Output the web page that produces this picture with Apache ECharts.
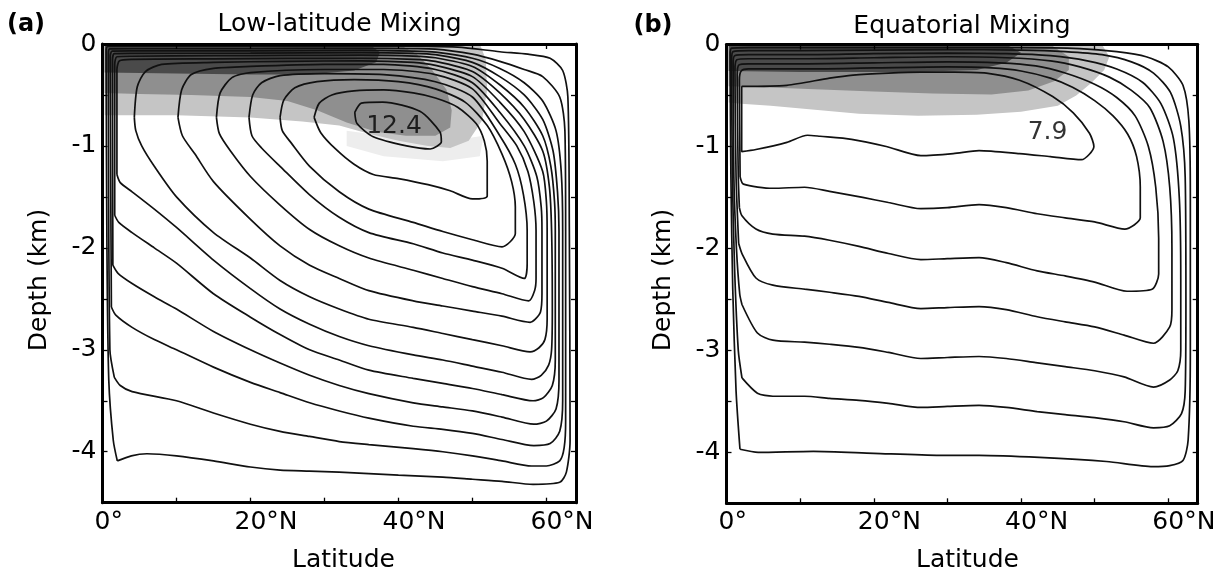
<!DOCTYPE html>
<html><head><meta charset="utf-8">
<script src="https://cdn.jsdelivr.net/npm/echarts@6/dist/echarts.min.js"></script>
<style>html,body{margin:0;padding:0;background:#fff}#c{width:1219px;height:571px}</style>
</head><body><div id="c"></div>
<script>
// ---------- text / ticks ----------
const panelTitles = ['Low-latitude Mixing', 'Equatorial Mixing'];
const panelTags = ['(a)', '(b)'];
const xName = 'Latitude';
const yName = 'Depth (km)';
const xTickLabels = {0: '0°', 20: '20°N', 40: '40°N', 60: '60°N'};
const maxLabelA = [[39.4, -0.81]];
const maxLabelB = [[43.6, -0.86]];
const maxTextA = '12.4';
const maxTextB = '7.9';

// ---------- panel (a) contours (lat °N, depth km) ----------
const contA1 = [[34.1,-0.67],[35.0,-0.58],[37.9,-0.57],[42.9,-0.66],[45.6,-0.86],[45.8,-0.96],[44.3,-1.03],[41.1,-1.0],[36.6,-0.91],[34.4,-0.78],[34.1,-0.67]];
const contA2 = [[28.6,-0.72],[29.3,-0.58],[31,-0.5],[34,-0.46],[38,-0.45],[42,-0.48],[45,-0.53],[48,-0.62],[50.5,-0.78],[51.6,-0.95],[52,-1.15],[52,-1.49],[50,-1.52],[47,-1.44],[44,-1.38],[40,-1.32],[36.6,-1.28],[34,-1.18],[31.5,-1.03],[29.5,-0.87],[28.6,-0.72]];
const contA3 = [[24,-0.72],[24.5,-0.55],[26,-0.43],[29,-0.37],[34,-0.35],[40,-0.37],[45,-0.44],[49,-0.57],[52,-0.8],[54,-1.08],[55.3,-1.35],[55.8,-1.6],[55.8,-1.86],[54,-1.99],[50,-1.92],[46,-1.84],[42,-1.75],[36,-1.62],[32,-1.45],[28,-1.2],[25.5,-0.97],[24.3,-0.85],[24,-0.72]];
const contA4 = [[19.8,-0.72],[20.3,-0.5],[21.5,-0.38],[24,-0.31],[30,-0.29],[38,-0.3],[45,-0.37],[50,-0.52],[53.7,-0.9],[55.8,-1.18],[56.9,-1.48],[57.4,-1.83],[57.4,-2.15],[57.0,-2.3],[54,-2.2],[50,-2.12],[46,-2.05],[42,-1.96],[36,-1.85],[32,-1.7],[28,-1.48],[24,-1.2],[21.5,-1.02],[20.2,-0.9],[19.8,-0.72]];
const contA5 = [[15.4,-0.72],[15.9,-0.48],[17.5,-0.33],[20,-0.28],[30,-0.25],[38,-0.25],[45,-0.3],[50,-0.44],[53.7,-0.78],[56,-1.0],[57.5,-1.25],[58.3,-1.55],[58.6,-1.83],[58.6,-2.3],[58.4,-2.42],[57.6,-2.52],[54,-2.45],[50,-2.38],[46,-2.3],[42,-2.22],[36,-2.1],[32,-1.98],[28,-1.82],[24,-1.58],[20,-1.3],[17.3,-1.05],[15.8,-0.88],[15.4,-0.72]];
const contA6 = [[10.2,-0.72],[10.7,-0.45],[12,-0.3],[15,-0.24],[20,-0.22],[30,-0.2],[38,-0.2],[45,-0.25],[50,-0.38],[53.7,-0.67],[57,-1.0],[58.7,-1.3],[59.3,-1.6],[59.4,-1.83],[59.4,-2.45],[59.2,-2.63],[58.5,-2.7],[57.8,-2.73],[54,-2.67],[50,-2.62],[46,-2.57],[42,-2.52],[36,-2.42],[32,-2.3],[28,-2.17],[24,-1.98],[20,-1.72],[15,-1.35],[12.5,-1.08],[10.8,-0.9],[10.2,-0.72]];
const contA7 = [[4.3,-0.72],[4.7,-0.42],[5.8,-0.27],[8,-0.2],[15,-0.18],[25,-0.17],[35,-0.165],[42,-0.18],[45,-0.21],[50,-0.32],[53.7,-0.57],[57,-0.86],[59.5,-1.25],[60,-1.55],[60.1,-1.83],[60.1,-2.7],[59.8,-2.9],[59,-2.98],[57.8,-3.02],[54,-2.96],[50,-2.9],[46,-2.84],[42,-2.78],[36,-2.7],[32,-2.6],[28,-2.48],[24,-2.32],[20,-2.1],[15,-1.85],[10,-1.5],[7,-1.2],[5.3,-1.0],[4.5,-0.85],[4.3,-0.72]];
const contA8 = [[1.95,-1.28],[1.95,-0.25],[2.3,-0.165],[4,-0.15],[15,-0.145],[25,-0.142],[35,-0.14],[42,-0.15],[45,-0.17],[50,-0.27],[53.7,-0.48],[57,-0.74],[59.5,-1.05],[60.4,-1.4],[60.7,-1.83],[60.8,-2.6],[60.7,-3.0],[60.3,-3.15],[59.3,-3.25],[58,-3.29],[54,-3.22],[50,-3.16],[46,-3.1],[42,-3.05],[36,-2.96],[32,-2.87],[28,-2.75],[24,-2.6],[20,-2.4],[15,-2.12],[10,-1.8],[7,-1.62],[4,-1.45],[2.4,-1.36],[1.95,-1.28]];
const contA9 = [[1.65,-1.68],[1.65,-0.2],[1.95,-0.125],[4,-0.12],[15,-0.115],[25,-0.112],[35,-0.11],[42,-0.118],[45,-0.135],[50,-0.22],[53.7,-0.4],[57,-0.62],[59.5,-0.9],[60.6,-1.2],[61.1,-1.55],[61.2,-1.83],[61.2,-3.1],[60.8,-3.35],[59.6,-3.47],[58.2,-3.5],[54,-3.44],[50,-3.38],[46,-3.33],[42,-3.28],[36,-3.2],[32,-3.1],[28,-3.0],[24,-2.85],[20,-2.68],[15,-2.45],[10,-2.15],[7,-2.0],[4,-1.85],[2.2,-1.75],[1.65,-1.68]];
const contA10 = [[1.4,-2.17],[1.35,-0.16],[1.6,-0.095],[4,-0.092],[20,-0.09],[35,-0.085],[42,-0.092],[45,-0.105],[50,-0.18],[53.7,-0.32],[57,-0.5],[59.5,-0.74],[60.9,-1.05],[61.5,-1.45],[61.7,-1.83],[61.7,-3.3],[61.3,-3.58],[60,-3.7],[58.3,-3.73],[54,-3.66],[50,-3.6],[46,-3.56],[42,-3.52],[36,-3.43],[32,-3.35],[28,-3.25],[24,-3.13],[20,-3.0],[15,-2.82],[10,-2.6],[7,-2.48],[4,-2.35],[2.1,-2.25],[1.4,-2.17]];
const contA11 = [[1.2,-2.58],[1.05,-0.12],[1.3,-0.07],[4,-0.068],[20,-0.067],[35,-0.063],[42,-0.07],[45,-0.08],[50,-0.14],[53.7,-0.24],[57,-0.38],[59.5,-0.56],[61.3,-0.85],[62,-1.25],[62.2,-1.83],[62.2,-3.5],[61.8,-3.8],[60.5,-3.92],[58.3,-3.94],[54,-3.88],[50,-3.82],[46,-3.78],[42,-3.75],[36,-3.67],[32,-3.6],[28,-3.52],[24,-3.42],[20,-3.32],[15,-3.17],[10,-3.0],[7,-2.9],[4,-2.78],[1.8,-2.66],[1.2,-2.58]];
const contA12 = [[1.6,-3.27],[1.0,-3.0],[0.8,-0.09],[1.0,-0.047],[4,-0.045],[20,-0.045],[35,-0.042],[42,-0.046],[45,-0.05],[50,-0.1],[53.7,-0.17],[57,-0.25],[59.5,-0.32],[61.8,-0.52],[62.5,-0.85],[62.6,-1.83],[62.6,-3.7],[62.4,-3.96],[61.8,-4.09],[60,-4.14],[58,-4.14],[54,-4.09],[50,-4.04],[46,-4.0],[42,-3.97],[36,-3.93],[32,-3.9],[28,-3.85],[24,-3.8],[20,-3.73],[15,-3.62],[10,-3.5],[4,-3.41],[2.4,-3.35],[1.6,-3.27]];
const contA13 = [[2.0,-4.09],[1.46,-3.89],[0.85,-3.3],[0.6,-2.0],[0.5,-0.06],[0.7,-0.024],[4,-0.022],[20,-0.021],[40,-0.02],[48,-0.03],[53.7,-0.076],[57.5,-0.1],[60.5,-0.14],[62.2,-0.26],[62.9,-0.52],[63.1,-1.83],[63.2,-3.89],[62.7,-4.2],[61.8,-4.3],[58.2,-4.32],[54,-4.29],[50,-4.27],[46,-4.25],[40,-4.23],[32,-4.2],[28,-4.19],[24,-4.18],[20,-4.15],[15,-4.09],[10,-4.04],[6,-4.02],[3.9,-4.04],[2.0,-4.09]];

// ---------- panel (b) contours ----------
const contB1 = [[2.06,-0.41],[8.2,-0.40],[14,-0.33],[17.2,-0.30],[22,-0.28],[26.3,-0.27],[31,-0.27],[35.3,-0.28],[39.8,-0.35],[44.3,-0.51],[47.1,-0.67],[49.3,-0.87],[49.9,-1.0],[48.2,-1.13],[44,-1.1],[39.8,-1.07],[34.3,-1.04],[30.8,-1.07],[26.4,-1.09],[21.7,-1.0],[17,-0.93],[12.7,-0.9],[11,-0.89],[8.2,-0.96],[4,-1.03],[2.06,-1.05],[2.06,-0.41]];
const contB2 = [[1.85,-1.3],[1.75,-0.35],[2.0,-0.26],[3,-0.24],[10,-0.24],[20,-0.23],[30,-0.22],[36,-0.23],[40,-0.26],[44,-0.33],[47,-0.42],[50,-0.55],[52.5,-0.7],[54.5,-0.88],[55.7,-1.1],[56.2,-1.4],[56.2,-1.7],[54.1,-1.81],[50,-1.74],[46,-1.7],[42.2,-1.66],[38,-1.6],[34.3,-1.57],[30,-1.6],[26.4,-1.61],[22,-1.55],[18.5,-1.5],[14,-1.44],[10.6,-1.4],[6.3,-1.41],[2.3,-1.37],[1.85,-1.3]];
const contB3 = [[1.75,-1.6],[1.6,-1.3],[1.45,-0.3],[1.7,-0.2],[3,-0.19],[10,-0.19],[20,-0.18],[30,-0.17],[37,-0.18],[42,-0.21],[46,-0.28],[50,-0.39],[53,-0.52],[55.5,-0.7],[57.3,-1.0],[58.3,-1.4],[58.7,-1.9],[58.7,-2.25],[57.8,-2.4],[54.4,-2.42],[50,-2.33],[46,-2.27],[42.2,-2.22],[38,-2.14],[34.3,-2.09],[30,-2.1],[26.4,-2.11],[22,-2.05],[18,-1.98],[14,-1.92],[10.6,-1.88],[6.3,-1.86],[4,-1.81],[2.1,-1.68],[1.75,-1.6]];
const contB4 = [[1.65,-1.95],[1.3,-1.3],[1.15,-0.25],[1.4,-0.15],[3,-0.14],[10,-0.14],[20,-0.13],[30,-0.12],[38,-0.13],[44,-0.16],[48,-0.22],[52,-0.32],[55,-0.45],[57.5,-0.62],[59.3,-0.95],[60.2,-1.4],[60.5,-2.0],[60.5,-2.6],[60.2,-2.77],[58,-2.93],[54,-2.85],[50,-2.77],[46,-2.72],[42.2,-2.67],[38,-2.6],[34.3,-2.57],[30,-2.58],[26.4,-2.59],[22,-2.53],[18,-2.47],[14,-2.43],[10.6,-2.4],[6.3,-2.36],[4,-2.29],[2.1,-2.05],[1.65,-1.95]];
const contB5 = [[2.1,-2.55],[1.8,-2.45],[1.35,-2.0],[1.0,-1.3],[0.9,-0.2],[1.1,-0.11],[3,-0.1],[10,-0.1],[20,-0.09],[30,-0.085],[38,-0.09],[44,-0.11],[49,-0.16],[53,-0.24],[56.5,-0.37],[59,-0.58],[60.7,-0.92],[61.5,-1.5],[61.7,-2.3],[61.7,-3.0],[61.3,-3.2],[60.2,-3.29],[58,-3.36],[54,-3.26],[50,-3.2],[46,-3.16],[42,-3.12],[38,-3.08],[34.3,-3.06],[30,-3.07],[26.4,-3.08],[22,-3.02],[18,-2.97],[14,-2.94],[10.6,-2.92],[6.3,-2.9],[4.2,-2.83],[2.1,-2.55]];
const contB6 = [[2.1,-3.27],[1.6,-3.0],[1.1,-2.2],[0.8,-1.3],[0.7,-0.15],[0.9,-0.07],[3,-0.06],[10,-0.06],[20,-0.055],[30,-0.05],[40,-0.055],[46,-0.07],[51,-0.1],[55,-0.17],[58,-0.28],[60.3,-0.47],[61.7,-0.8],[62.3,-1.3],[62.4,-2.5],[62.3,-3.4],[61.8,-3.62],[60.2,-3.74],[58,-3.76],[54,-3.7],[50,-3.66],[46,-3.63],[42.2,-3.6],[38,-3.56],[34.3,-3.54],[30,-3.55],[26.4,-3.56],[22,-3.52],[18,-3.49],[14,-3.47],[10.6,-3.45],[6.3,-3.45],[4.2,-3.42],[2.1,-3.27]];
const contB7 = [[1.83,-3.97],[1.3,-3.4],[0.85,-2.4],[0.6,-1.3],[0.5,-0.1],[0.7,-0.035],[3,-0.03],[20,-0.03],[40,-0.03],[48,-0.04],[53,-0.07],[57,-0.12],[60,-0.22],[62,-0.4],[62.8,-0.75],[63.0,-1.5],[63.0,-3.0],[62.7,-3.88],[62,-4.08],[60.2,-4.13],[57.9,-4.14],[51.6,-4.09],[42.5,-4.05],[34.3,-4.03],[29,-4.03],[20,-4.01],[11.8,-3.99],[4.3,-4.0],[1.83,-3.97]];

// ---------- shading regions ----------
const shadeAFaint  = [[33,-0.85],[40,-0.92],[47,-0.95],[51.5,-0.9],[51,-1.1],[46,-1.15],[38,-1.1],[33,-1.0]];
const shadeALight  = [[0.3,0],[51,0],[51.8,-0.15],[52,-0.45],[51.3,-0.75],[49.5,-0.95],[47,-1.02],[44,-1.0],[40,-0.95],[36,-0.88],[32,-0.8],[27,-0.76],[20,-0.72],[10,-0.7],[0.3,-0.7]];
const shadeAMedium = [[0.3,0],[40,0],[42.5,-0.1],[44.5,-0.25],[46.5,-0.45],[47.2,-0.65],[47,-0.82],[45,-0.9],[41,-0.9],[37,-0.86],[33,-0.77],[29,-0.65],[25,-0.56],[20,-0.52],[12,-0.5],[5,-0.49],[0.3,-0.48]];
const shadeADark   = [[0.3,0],[36,0],[37.5,-0.08],[37,-0.18],[34,-0.26],[28,-0.3],[20,-0.3],[10,-0.29],[0.3,-0.28]];
const shadeBLight  = [[0.3,0],[51,0],[52,-0.12],[51.3,-0.25],[49.5,-0.38],[47.5,-0.5],[45,-0.6],[40,-0.66],[34,-0.69],[26,-0.7],[18,-0.68],[12,-0.64],[6,-0.6],[2,-0.58],[0.3,-0.57]];
const shadeBMedium = [[0.3,0],[44,0],[46.5,-0.12],[46.5,-0.25],[44.5,-0.36],[41,-0.45],[36,-0.49],[28,-0.48],[20,-0.46],[12,-0.44],[5,-0.42],[0.3,-0.41]];
const shadeBDark   = [[0.3,0],[38,0],[40,-0.08],[38,-0.18],[34,-0.25],[25,-0.27],[10,-0.27],[0.3,-0.26]];

const contoursA = [contA1,contA2,contA3,contA4,contA5,contA6,contA7,contA8,contA9,contA10,contA11,contA12,contA13];
const contoursB = [contB1,contB2,contB3,contB4,contB5,contB6,contB7];

// ---------- build chart ----------
const FONT = 'DejaVu Sans';
const grids = [
  {left: 102.5, top: 44, width: 473.5, height: 458.7, containLabel: false, outerBoundsMode: 'none'},
  {left: 726.5, top: 44.5, width: 471.2, height: 458.8, containLabel: false, outerBoundsMode: 'none'}
];
function xAxisOpt(g, pos) {
  return {
    type: 'value', gridIndex: g, position: pos, min: 0, max: 64, interval: 10, z: 10,
    axisLine: {show: true, onZero: false, lineStyle: {color: '#000', width: 3}},
    axisTick: {show: true, inside: true, length: 5, lineStyle: {color: '#000', width: 1.3}},
    splitLine: {show: false},
    axisLabel: {
      show: pos === 'bottom', margin: 7, color: '#000', fontSize: 25, fontFamily: FONT,
      formatter: function (v) {
        const lab = xTickLabels[v];
        if (lab === undefined) return '';
        const suf = lab.replace(/^\d+/, '');
        return '{h|' + suf + '}{t|' + lab + '}';
      },
      rich: {
        h: {color: 'rgba(0,0,0,0)', fontSize: 25, fontFamily: FONT},
        t: {color: '#000', fontSize: 25, fontFamily: FONT}
      }
    }
  };
}
function yAxisOpt(g, pos) {
  return {
    type: 'value', gridIndex: g, position: pos, min: -4.5, max: 0, interval: 0.5, z: 10,
    axisLine: {show: true, onZero: false, lineStyle: {color: '#000', width: 3}},
    axisTick: {show: true, inside: true, length: 5, lineStyle: {color: '#000', width: 1.3}},
    splitLine: {show: false},
    axisLabel: {
      show: pos === 'left', margin: 6, color: '#000', fontSize: 25, fontFamily: FONT,
      formatter: function (v) {
        const r = Math.round(v);
        return Math.abs(v - r) < 1e-6 ? String(r === 0 ? 0 : r) : '';
      }
    }
  };
}
function shadeSeries(poly, color, p, z) {
  return {
    type: 'custom', coordinateSystem: 'cartesian2d', xAxisIndex: p * 2, yAxisIndex: p * 2,
    data: [0], silent: true, animation: false, clip: true, z: z,
    renderItem: function (params, api) {
      return {type: 'polygon', shape: {points: poly.map(function (pt) { return api.coord(pt); })},
              style: {fill: color, stroke: null}};
    }
  };
}
function lineSeries(data, p) {
  return {
    type: 'line', xAxisIndex: p * 2, yAxisIndex: p * 2, data: data, showSymbol: false, symbol: 'none',
    smooth: 0.25, silent: true, animation: false, z: 5,
    lineStyle: {color: '#111', width: 1.7}
  };
}
function labelSeries(pt, text, p) {
  return {
    type: 'scatter', xAxisIndex: p * 2, yAxisIndex: p * 2, data: pt, symbolSize: 1, silent: true,
    animation: false, z: 6, itemStyle: {color: 'rgba(0,0,0,0)'},
    label: {show: true, position: 'inside', formatter: text, color: '#000', fontSize: 25, fontFamily: FONT}
  };
}
const series = [
  shadeSeries(shadeAFaint, '#ededed', 0, 1),
  shadeSeries(shadeALight, '#c5c5c5', 0, 2),
  shadeSeries(shadeAMedium, '#8f8f8f', 0, 3),
  shadeSeries(shadeADark, '#4a4a4a', 0, 4),
  shadeSeries(shadeBLight, '#c5c5c5', 1, 2),
  shadeSeries(shadeBMedium, '#8f8f8f', 1, 3),
  shadeSeries(shadeBDark, '#4a4a4a', 1, 4)
];
contoursA.forEach(function (c) { series.push(lineSeries(c, 0)); });
contoursB.forEach(function (c) { series.push(lineSeries(c, 1)); });
series.push(labelSeries(maxLabelA, maxTextA, 0));
series.push(labelSeries(maxLabelB, maxTextB, 1));

function txt(str, x, y, opts) {
  opts = opts || {};
  return {
    type: 'text', x: x, y: y, rotation: opts.rot || 0, z: 20, silent: true,
    style: {
      text: str, fill: '#000',
      font: (opts.bold ? 'bold ' : '') + (opts.size || 25) + 'px "' + FONT + '"',
      align: 'center', verticalAlign: 'middle', textAlign: 'center', textVerticalAlign: 'middle'
    }
  };
}
const graphic = [
  txt(panelTags[0], 26, 25, {bold: true, size: 24}),
  txt(panelTags[1], 653, 26, {bold: true, size: 24}),
  txt(panelTitles[0], 339.5, 24.7),
  txt(panelTitles[1], 962, 26.3),
  txt(yName, 39, 280, {rot: Math.PI / 2}),
  txt(yName, 663, 280, {rot: Math.PI / 2}),
  txt(xName, 343.5, 560),
  txt(xName, 967.5, 560)
];

const chart = echarts.init(document.getElementById('c'), null, {renderer: 'canvas', width: 1219, height: 571});
chart.setOption({
  animation: false,
  backgroundColor: '#fff',
  grid: grids,
  xAxis: [xAxisOpt(0, 'bottom'), xAxisOpt(0, 'top'), xAxisOpt(1, 'bottom'), xAxisOpt(1, 'top')],
  yAxis: [yAxisOpt(0, 'left'), yAxisOpt(0, 'right'), yAxisOpt(1, 'left'), yAxisOpt(1, 'right')],
  series: series,
  graphic: graphic
});
</script>
</body></html>
